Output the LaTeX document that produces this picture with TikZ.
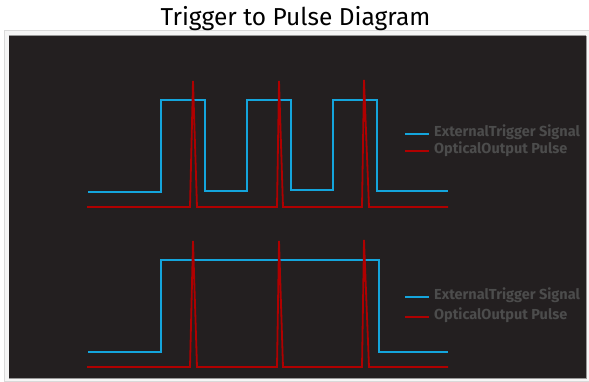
\documentclass[tikz,border=0pt]{standalone}
\usepackage{fontspec}
\setmainfont{Fira Sans}
\definecolor{panel}{HTML}{231F20}
\definecolor{trig}{HTML}{14A5DC}
\definecolor{pulse}{HTML}{B00000}
\definecolor{legtext}{HTML}{4C4C4C}
\begin{document}
\begin{tikzpicture}[x=1pt,y=-1pt,
  trigline/.style={draw=trig,line width=1.8pt,line join=miter},
  pulseline/.style={draw=pulse,line width=1.8pt,line join=miter},
  legendtext/.style={anchor=west,inner sep=0pt,text=legtext,font=\fontsize{14.5}{16}\selectfont\bfseries},
  titletext/.style={font=\fontsize{24.5}{28}\selectfont}]
\useasboundingbox (0,0) rectangle (589,381);
\fill[white] (0,0) rectangle (589,381);
% frame
\draw[draw=black!15,fill=black!4] (4,30) rectangle (589,381);
\fill[panel] (8.5,35.5) rectangle (586,377.5);
\draw[black!40,line width=1pt] (8.5,35.5) -- (586,35.5);
\draw[black!40,line width=1pt] (8.5,378) -- (586,378) -- (586,35.5);
% title
\node[titletext] (title) at (295.5,19) {Trigger to Pulse Diagram};
% top chart
\draw[trigline] (88,192) -- (161,192) -- (161,100) -- (205,100) -- (205,191) -- (247,191) -- (247,100) -- (291,100) -- (291,190) -- (333,190) -- (333,100) -- (377,100) -- (377,191) -- (448,191);
\draw[pulseline] (87,207) -- (190,207) -- (193,81) -- (197,207) -- (277,207) -- (279,81) -- (283,207) -- (362,207) -- (364,80) -- (369,207) -- (448,207);
% top legend
\draw[trigline] (405,134) -- (429,134);
\draw[pulseline] (405,151) -- (429,151);
\node[legendtext] (l1) at (434,132.5) {ExternalTrigger Signal};
\node[legendtext] (l2) at (434,149.5) {OpticalOutput Pulse};
% bottom chart
\draw[trigline] (88,352) -- (161,352) -- (161,260) -- (379,260) -- (379,352) -- (448,352);
\draw[pulseline] (87,367) -- (190,367) -- (193,241) -- (197,367) -- (277,367) -- (279,241) -- (283,367) -- (362,367) -- (364,240) -- (369,367) -- (448,367);
% bottom legend
\draw[trigline] (405,297) -- (429,297);
\draw[pulseline] (405,317) -- (429,317);
\node[legendtext] (l3) at (434,295.5) {ExternalTrigger Signal};
\node[legendtext] (l4) at (434,315.5) {OpticalOutput Pulse};
\end{tikzpicture}
\end{document}
